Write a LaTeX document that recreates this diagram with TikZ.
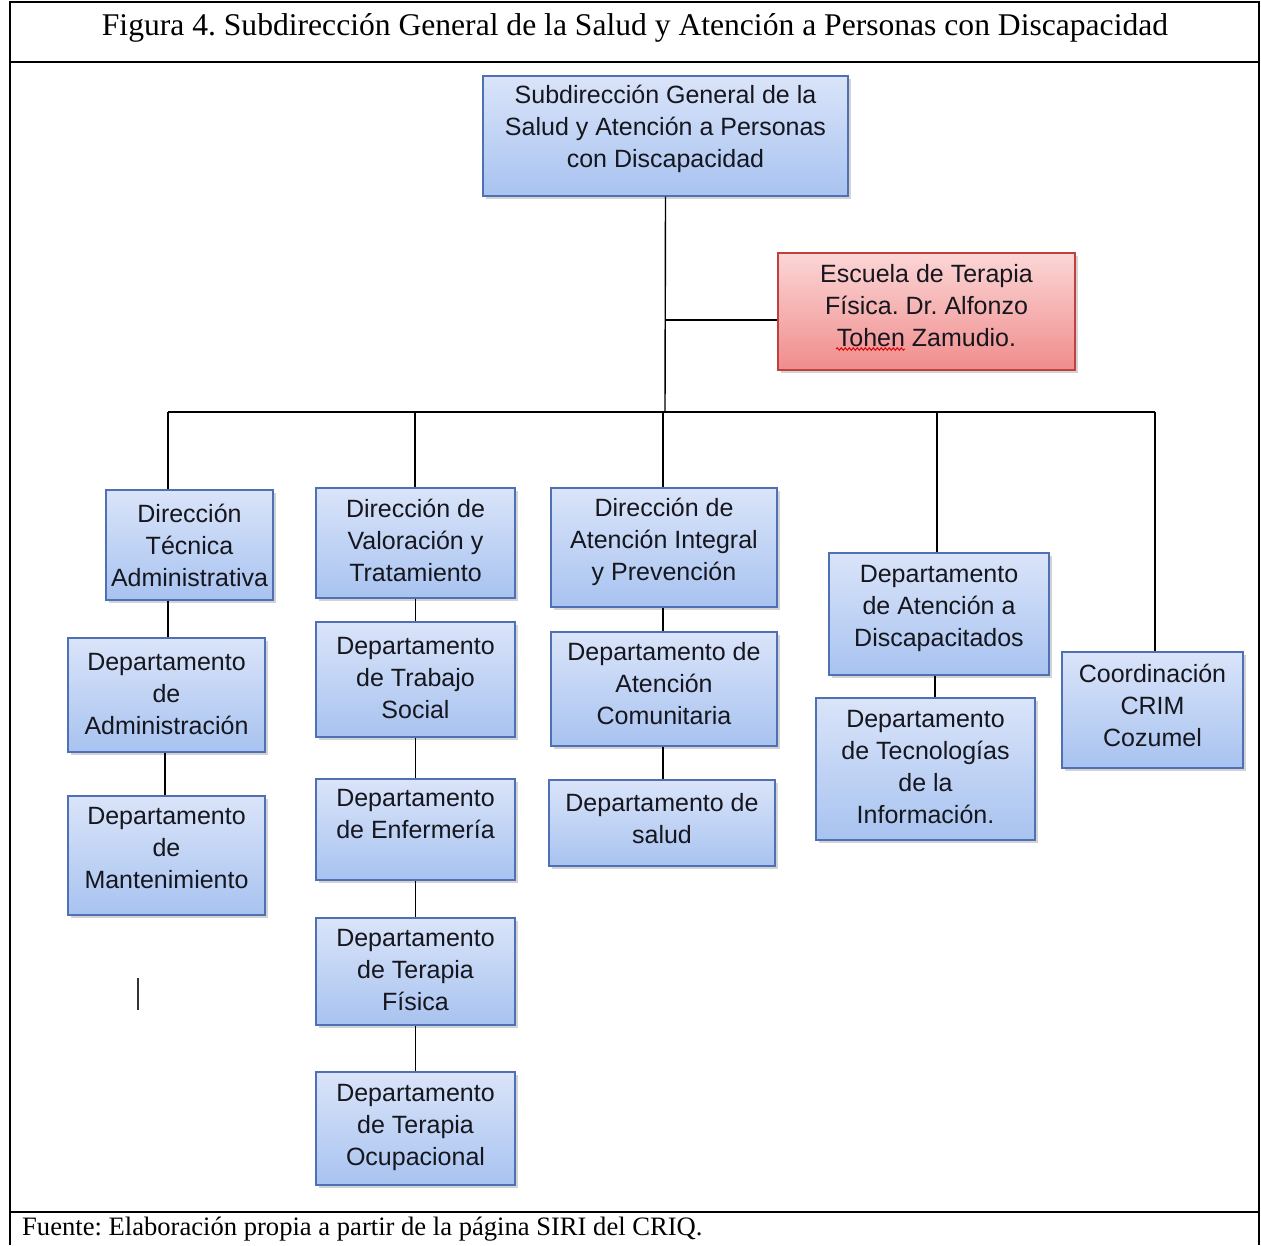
\documentclass[tikz,border=0pt]{standalone}
\usepackage{fontspec}
\setmainfont{Liberation Serif}
\newfontfamily\boxfamily{Liberation Sans}
\usetikzlibrary{shadows,decorations.pathmorphing}
\definecolor{bxtop}{RGB}{218,228,249}
\definecolor{bxbot}{RGB}{168,195,240}
\definecolor{bxline}{RGB}{80,112,182}
\definecolor{rdtop}{RGB}{252,214,214}
\definecolor{rdbot}{RGB}{240,140,140}
\definecolor{rdline}{RGB}{190,64,64}
\definecolor{txt}{RGB}{22,22,30}
\frenchspacing
\begin{document}
\begin{tikzpicture}[x=1pt,y=-1pt,
  orgbox/.style={draw=bxline, line width=1.3pt, top color=bxtop, bottom color=bxbot,
    inner sep=0pt,
    drop shadow={shadow xshift=3pt, shadow yshift=-3pt, opacity=0.35}},
  redbox/.style={orgbox, draw=rdline, top color=rdtop, bottom color=rdbot},
  boxtext/.style={align=center, inner sep=0pt, text=txt,
    font=\boxfamily\fontsize{25}{32}\selectfont},
  link/.style={line width=1.4pt, black},
  frame/.style={line width=1.6pt, black}]
\useasboundingbox (0,0) rectangle (1261,1245);
% frame
\draw[frame] (10,1245) -- (10,2) -- (1259,2) -- (1259,1245);
\draw[line width=2.6pt] (10,62) -- (1259,62);
\draw[line width=2.6pt] (10,1212) -- (1259,1212);
\node[font=\fontsize{31.6}{36}\selectfont, inner sep=0pt] (title) at (635,28) {Figura 4. Subdirección General de la Salud y Atención a Personas con Discapacidad};
\node[anchor=west, font=\fontsize{26.6}{30}\selectfont, inner sep=0pt] (src) at (22,1229) {Fuente: Elaboración propia a partir de la página SIRI del CRIQ.};

% boxes
\node[orgbox, minimum width=365pt, minimum height=120pt,
  label={[boxtext, yshift=7pt]center:Subdirección General de la\\Salud y Atención a Personas\\con Discapacidad}] (top) at (665.5,136) {};
\node[redbox, minimum width=297pt, minimum height=117pt,
  label={[boxtext, yshift=6pt]center:Escuela de Terapia\\Física. Dr. Alfonzo\\Tohen Zamudio.}] (esc) at (926.5,311.5) {};

\node[orgbox, minimum width=167pt, minimum height=110pt,
  label={[boxtext]center:Dirección\\Técnica\\Administrativa}] (dta) at (189.5,545) {};
\node[orgbox, minimum width=197pt, minimum height=114pt,
  label={[boxtext, yshift=1pt]center:Departamento\\de\\Administración}] (dadm) at (166.5,695) {};
\node[orgbox, minimum width=197pt, minimum height=119pt,
  label={[boxtext, yshift=7pt]center:Departamento\\de\\Mantenimiento}] (dmant) at (166.5,855.5) {};

\node[orgbox, minimum width=199pt, minimum height=110pt,
  label={[boxtext, yshift=3pt]center:Dirección de\\Valoración y\\Tratamiento}] (dvt) at (415.5,543) {};
\node[orgbox, minimum width=199pt, minimum height=115pt,
  label={[boxtext, yshift=1pt]center:Departamento\\de Trabajo\\Social}] (dts) at (415.5,679.5) {};
\node[orgbox, minimum width=199pt, minimum height=101pt,
  label={[boxtext, yshift=15pt]center:Departamento\\de Enfermería}] (denf) at (415.5,829.5) {};
\node[orgbox, minimum width=199pt, minimum height=107pt,
  label={[boxtext, yshift=1pt]center:Departamento\\de Terapia\\Física}] (dtf) at (415.5,971.5) {};
\node[orgbox, minimum width=199pt, minimum height=113pt,
  label={[boxtext, yshift=1pt]center:Departamento\\de Terapia\\Ocupacional}] (dto) at (415.5,1128.5) {};

\node[orgbox, minimum width=226pt, minimum height=119pt,
  label={[boxtext, yshift=6pt]center:Dirección de\\Atención Integral\\y Prevención}] (daip) at (664,547.5) {};
\node[orgbox, minimum width=226pt, minimum height=114pt,
  label={[boxtext, yshift=5pt]center:Departamento de\\Atención\\Comunitaria}] (dac) at (664,689) {};
\node[orgbox, minimum width=226pt, minimum height=86pt,
  label={[boxtext, yshift=4pt]center:Departamento de\\salud}] (dsal) at (662,823) {};

\node[orgbox, minimum width=220pt, minimum height=122pt,
  label={[boxtext, yshift=6pt]center:Departamento\\de Atención a\\Discapacitados}] (dadis) at (939,614) {};
\node[orgbox, minimum width=219pt, minimum height=142pt,
  label={[boxtext, yshift=2pt]center:Departamento\\de Tecnologías\\de la\\Información.}] (dtec) at (925.5,769) {};

\node[orgbox, minimum width=181pt, minimum height=116pt,
  label={[boxtext, yshift=5pt]center:Coordinación\\CRIM\\Cozumel}] (crim) at (1152.5,710) {};

% spell-check underline
\draw[red!85!black, line width=0.9pt, decorate, decoration={snake, amplitude=1.3pt, segment length=4pt}] (836,349) -- (905,349);

% connectors
\coordinate (bus) at (665,412);
\coordinate (esj) at (665,320);
\coordinate (b1) at (168,412);
\coordinate (b2) at (415,412);
\coordinate (b3) at (663,412);
\coordinate (b4) at (937,412);
\coordinate (b5) at (1155,412);
\draw[link] (top.south) -- (bus);
\draw[link] (esj) -- (esj -| esc.west);
\draw[link] (b1) -- (b5);
\draw[link] (b1) -- (b1 |- dta.north);
\draw[link] (b2) -- (b2 |- dvt.north);
\draw[link] (b3) -- (b3 |- daip.north);
\draw[link] (b4) -- (b4 |- dadis.north);
\draw[link] (b5) -- (b5 |- crim.north);

\coordinate (c1) at (168,0);
\coordinate (c1b) at (165,0);
\draw[link] (c1 |- dta.south) -- (c1 |- dadm.north);
\draw[link] (c1b |- dadm.south) -- (c1b |- dmant.north);
\draw[link] (dvt.south) -- (dts.north);
\draw[link] (dts.south) -- (denf.north);
\draw[link] (denf.south) -- (dtf.north);
\draw[link] (dtf.south) -- (dto.north);
\coordinate (c3) at (663,0);
\draw[link] (c3 |- daip.south) -- (c3 |- dac.north);
\draw[link] (c3 |- dac.south) -- (c3 |- dsal.north);
\coordinate (c4) at (935,0);
\draw[link] (c4 |- dadis.south) -- (c4 |- dtec.north);

% stray mark
\coordinate (m1) at (138,978);
\coordinate (m2) at (138,1010);
\draw[line width=2pt, black!80] (m1) -- (m2);
\end{tikzpicture}
\end{document}
